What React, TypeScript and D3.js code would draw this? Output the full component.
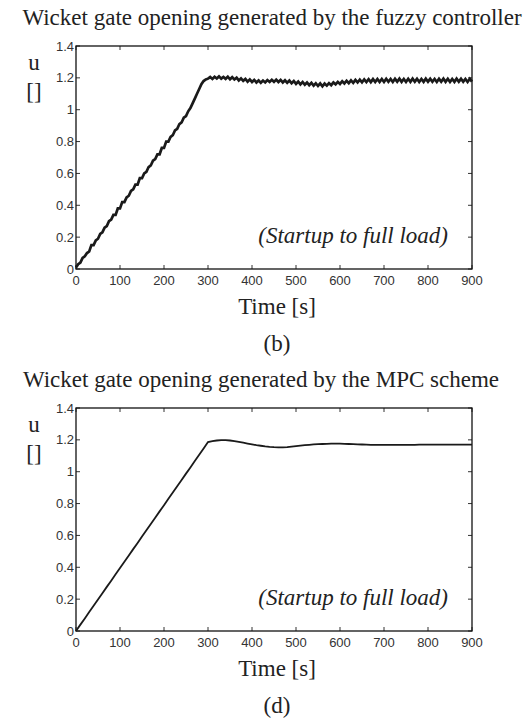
import React, {useEffect, useRef} from 'react';
import * as d3 from 'd3';

// time grid of the fuzzy run (5 s samples) and the MPC run (10 s samples)
const fuzzyTime = d3.range(0, 905, 5);
const mpcTime = d3.range(0, 910, 10);

// wicket gate opening u (fuzzy controller, noisy)
const fuzzyU = [
    0.01, 0.03, 0.04, 0.07, 0.08, 0.10, 0.11, 0.15, 0.15, 0.18,
    0.19, 0.22, 0.23, 0.26, 0.27, 0.30, 0.31, 0.34, 0.34, 0.38,
    0.38, 0.42, 0.42, 0.45, 0.46, 0.49, 0.50, 0.53, 0.53, 0.57,
    0.57, 0.60, 0.61, 0.64, 0.65, 0.68, 0.69, 0.72, 0.72, 0.76,
    0.76, 0.80, 0.80, 0.83, 0.84, 0.87, 0.88, 0.91, 0.92, 0.95,
    0.96, 0.99, 1.01, 1.04, 1.07, 1.10, 1.13, 1.16, 1.18, 1.19,
    1.195, 1.205, 1.193, 1.207, 1.196, 1.209, 1.195, 1.206, 1.194, 1.207,
    1.191, 1.204, 1.190, 1.201, 1.184, 1.197, 1.181, 1.193, 1.176, 1.190,
    1.174, 1.187, 1.171, 1.184, 1.169, 1.183, 1.171, 1.186, 1.174, 1.188,
    1.175, 1.189, 1.174, 1.187, 1.171, 1.185, 1.169, 1.183, 1.166, 1.180,
    1.162, 1.177, 1.159, 1.174, 1.157, 1.171, 1.154, 1.169, 1.151, 1.166,
    1.149, 1.165, 1.147, 1.164, 1.151, 1.167, 1.154, 1.171, 1.159, 1.175,
    1.162, 1.179, 1.165, 1.182, 1.167, 1.184, 1.169, 1.187, 1.171, 1.189,
    1.172, 1.190, 1.173, 1.191, 1.173, 1.192, 1.174, 1.193, 1.174, 1.193,
    1.174, 1.194, 1.175, 1.193, 1.174, 1.194, 1.176, 1.195, 1.175, 1.193,
    1.174, 1.194, 1.175, 1.195, 1.176, 1.194, 1.174, 1.193, 1.175, 1.195,
    1.176, 1.194, 1.175, 1.193, 1.174, 1.194, 1.176, 1.195, 1.175, 1.194,
    1.174, 1.193, 1.175, 1.195, 1.176, 1.194, 1.175, 1.193, 1.174, 1.194,
    1.176
];

// wicket gate opening u, MPC scheme (smooth)
const mpcU = [
    0.000, 0.040, 0.079, 0.119, 0.158, 0.198, 0.237, 0.277, 0.316, 0.356,
    0.395, 0.435, 0.474, 0.514, 0.553, 0.593, 0.632, 0.672, 0.711, 0.751,
    0.790, 0.830, 0.869, 0.909, 0.948, 0.988, 1.027, 1.067, 1.106, 1.146,
    1.186, 1.192, 1.196, 1.198, 1.198, 1.196, 1.192, 1.187, 1.182, 1.177,
    1.172, 1.167, 1.163, 1.159, 1.156, 1.154, 1.153, 1.153, 1.155, 1.158,
    1.161, 1.164, 1.167, 1.169, 1.171, 1.173, 1.174, 1.175, 1.176, 1.176,
    1.176, 1.175, 1.174, 1.173, 1.172, 1.171, 1.170, 1.169, 1.169, 1.168,
    1.168, 1.168, 1.168, 1.168, 1.168, 1.169, 1.169, 1.169, 1.170, 1.170,
    1.170, 1.170, 1.170, 1.170, 1.170, 1.170, 1.170, 1.170, 1.170, 1.170,
    1.170
];

const xTicks = [0, 100, 200, 300, 400, 500, 600, 700, 800, 900];
const yTicks = [0, 0.2, 0.4, 0.6, 0.8, 1, 1.2, 1.4];

const panels = [
    {title: 'Wicket gate opening generated by the fuzzy controller', tag: '(b)', t: fuzzyTime, u: fuzzyU, top: 46, titleX: 272, width: 2.7},
    {title: 'Wicket gate opening generated by the MPC scheme', tag: '(d)', t: mpcTime, u: mpcU, top: 408, titleX: 261, width: 1.8}
];

const serif = '"Liberation Serif", "Times New Roman", serif';
const sans = '"Liberation Sans", Arial, sans-serif';

export default function App() {
    const ref = useRef<SVGSVGElement>(null);

    useEffect(() => {
        const svg = d3.select(ref.current);
        svg.selectAll('*').remove();

        const left = 76, right = 472, h = 223;

        panels.forEach((p) => {
            const x = d3.scaleLinear().domain([0, 900]).range([left, right]);
            const y = d3.scaleLinear().domain([0, 1.4]).range([p.top + h, p.top]);
            const g = svg.append('g');

            g.append('text')
                .attr('x', p.titleX).attr('y', p.top - 21)
                .attr('text-anchor', 'middle')
                .style('font-family', serif).style('font-size', '23px')
                .attr('fill', '#222')
                .text(p.title);

            // ticks on all four sides, pointing in
            const tk = 4;
            xTicks.forEach((v) => {
                g.append('line').attr('x1', x(v)).attr('x2', x(v))
                    .attr('y1', p.top + h).attr('y2', p.top + h - tk)
                    .attr('stroke', '#333');
                g.append('line').attr('x1', x(v)).attr('x2', x(v))
                    .attr('y1', p.top).attr('y2', p.top + tk)
                    .attr('stroke', '#333');
                g.append('text')
                    .attr('x', x(v)).attr('y', p.top + h + 16)
                    .attr('text-anchor', 'middle')
                    .style('font-family', sans).style('font-size', '13px')
                    .attr('fill', '#333')
                    .text(v);
            });
            yTicks.forEach((v) => {
                g.append('line').attr('x1', left).attr('x2', left + tk)
                    .attr('y1', y(v)).attr('y2', y(v))
                    .attr('stroke', '#333');
                g.append('line').attr('x1', right).attr('x2', right - tk)
                    .attr('y1', y(v)).attr('y2', y(v))
                    .attr('stroke', '#333');
                g.append('text')
                    .attr('x', left - 2).attr('y', y(v) + 4.5)
                    .attr('text-anchor', 'end')
                    .style('font-family', sans).style('font-size', '13px')
                    .attr('fill', '#333')
                    .text(v);
            });

            g.append('rect')
                .attr('x', left).attr('y', p.top)
                .attr('width', right - left).attr('height', h)
                .attr('fill', 'none').attr('stroke', '#111').attr('stroke-width', 1.3);

            const line = d3.line<number>()
                .x((d, i) => x(p.t[i]))
                .y((d) => y(d));
            g.append('path')
                .datum(p.u)
                .attr('d', line)
                .attr('fill', 'none')
                .attr('stroke', '#1a1a1a')
                .attr('stroke-width', p.width)
                .attr('stroke-linejoin', 'miter');

            g.append('text')
                .attr('x', 448).attr('y', p.top + 197)
                .attr('text-anchor', 'end')
                .style('font-family', serif).style('font-size', '23px').style('font-style', 'italic')
                .attr('fill', '#222')
                .text('(Startup to full load)');

            // y label stacked as in the original
            g.append('text').attr('x', 34).attr('y', p.top + 24)
                .attr('text-anchor', 'middle')
                .style('font-family', serif).style('font-size', '23px').attr('fill', '#222')
                .text('u');
            g.append('text').attr('x', 34).attr('y', p.top + 53)
                .attr('text-anchor', 'middle')
                .style('font-family', serif).style('font-size', '23px').attr('fill', '#222')
                .text('[]');

            g.append('text').attr('x', 277).attr('y', p.top + h + 45)
                .attr('text-anchor', 'middle')
                .style('font-family', serif).style('font-size', '23px').attr('fill', '#222')
                .text('Time [s]');
            g.append('text').attr('x', 277).attr('y', p.top + h + 82)
                .attr('text-anchor', 'middle')
                .style('font-family', serif).style('font-size', '23px').attr('fill', '#222')
                .text(p.tag);
        });
    }, []);

    return (
        <svg ref={ref} width={528} height={720}
             style={{position: 'absolute', left: 0, top: 0, background: '#fff'}}/>
    );
}
